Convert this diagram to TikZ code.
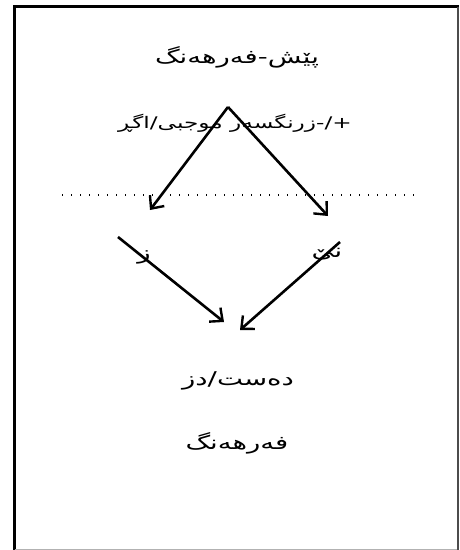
\documentclass[tikz,border=0pt]{standalone}
\usepackage{fontspec}
\usetikzlibrary{arrows.meta}
\newfontfamily\arabicfont[Script=Arabic,FakeStretch=1.45]{DejaVu Sans}
\TeXXeTstate=1
\begin{document}
\begin{tikzpicture}[x=1pt,y=-1pt,
  lbl/.style={font=\arabicfont\fontsize{19}{22}\selectfont, inner sep=0pt},
  lblsmall/.style={font=\arabicfont\fontsize{16}{19}\selectfont, inner sep=0pt},
  arr/.style={line width=2.6pt, -{Straight Barb[length=10pt,width=18pt,line width=2.4pt]}},
  dotline/.style={line width=1.3pt, dash pattern=on 1.3pt off 7.7pt}]
\useasboundingbox (0,0) rectangle (459,550);
\fill[white] (0,0) rectangle (459,550);
% frame
\draw[line width=3pt] (14.5,550) -- (14.5,6.5) -- (459,6.5);
\draw[line width=2pt, black!70] (457.5,6.5) -- (457.5,550);
\draw[line width=1pt, black!30] (14.5,549.5) -- (457,549.5);
% texts
\node[lbl] (t1) at (237,57) {\beginR پێش-فەرهەنگ\endR};
\node[lblsmall] (t2) at (235,123) {\beginR +/-زرنگسەر موجبی/اگڕ\endR};
\node[lbl] (z) at (144,257) {\beginR ز\endR};
\node[lbl] (ne) at (327,254) {\beginR نێ\endR};
\node[lbl] (t3) at (238,381) {\beginR دەست/دز\endR};
\node[lbl] (t4) at (237,443) {\beginR فەرهەنگ\endR};
% dotted line
\coordinate (d1) at (62,195);
\coordinate (d2) at (416,195);
\draw[dotline] (d1) -- (d2);
% arrows
\coordinate (apex) at (228,107);
\coordinate (e1) at (150,210);
\coordinate (e2) at (328,216);
\coordinate (s3) at (118,237);
\coordinate (e3) at (224,322);
\coordinate (s4) at (340,242);
\coordinate (e4) at (240,330);
\draw[arr] (apex) -- (e1);
\draw[arr] (apex) -- (e2);
\draw[arr] (s3) -- (e3);
\draw[arr] (s4) -- (e4);
\end{tikzpicture}
\end{document}
